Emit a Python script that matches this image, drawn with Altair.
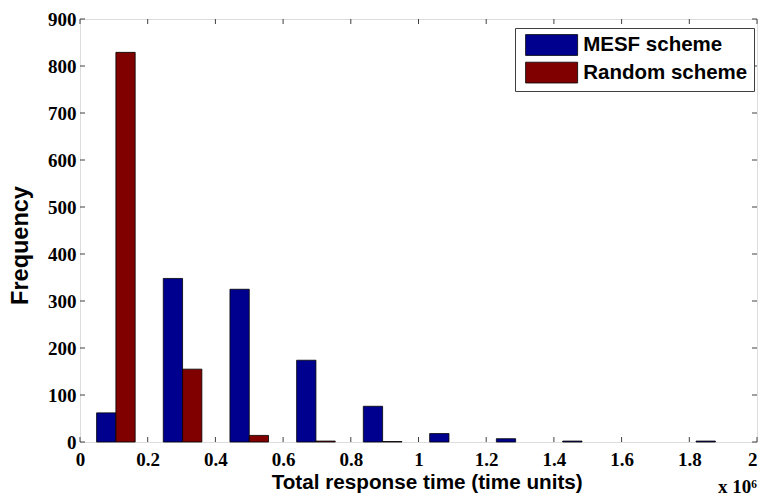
import altair as alt
import pandas as pd

# ---- data ----
centers = [0.106, 0.303, 0.500, 0.697, 0.894, 1.090, 1.287, 1.483, 1.680, 1.877]
mesf = [62, 348, 325, 174, 76, 18, 7, 2, 0, 2]
random_s = [829, 155, 14, 2, 1, 0, 0, 0, 0, 0]
series = ["MESF scheme", "Random scheme"]
colors = ["#00008F", "#800000"]
x_ticks = [0, 0.2, 0.4, 0.6, 0.8, 1.0, 1.2, 1.4, 1.6, 1.8, 2.0]
y_ticks = [0, 100, 200, 300, 400, 500, 600, 700, 800, 900]
exp_label = "x 10\u2076"

W, H = 677, 423
half = 0.057
frame = "#404040"

rows = []
for c, m, r in zip(centers, mesf, random_s):
    rows.append({"series": series[0], "x0": c - half, "x1": c, "count": m})
    rows.append({"series": series[1], "x0": c, "x1": c + half, "count": r})
bars_df = pd.DataFrame(rows)
bars_df = bars_df[bars_df["count"] > 0]

xs = alt.Scale(domain=[0, 2], nice=False, zero=False)
ys = alt.Scale(domain=[0, 900], nice=False)

x_axis = alt.Axis(
    values=x_ticks, format=".1~f", title="Total response time (time units)",
    ticks=False, tickSize=0, domain=False, grid=False,
    labelFont="Liberation Serif", labelFontSize=19, labelFontWeight="bold",
    labelColor="black", labelPadding=8, labelFlush=False, labelOverlap=False,
    labelAlign=alt.ConditionalAxisLabelAlign(
        condition={"test": "datum.value >= 2", "value": "right"}, value="center"),
    titleFont="Liberation Sans", titleFontSize=20.7, titleFontWeight="bold",
    titleColor="black", titleX=346.7, titleY=46, titleBaseline="alphabetic",
    titleAlign="center",
)
y_axis = alt.Axis(
    values=y_ticks, title="Frequency",
    ticks=False, tickSize=0, domain=False, grid=False,
    labelFont="Liberation Serif", labelFontSize=19, labelFontWeight="bold",
    labelColor="black", labelPadding=4, labelOverlap=False,
    titleFont="Liberation Sans", titleFontSize=23.5, titleFontWeight="bold",
    titleColor="black", titleX=-52.6, titleY=226, titleAngle=270,
    titleBaseline="alphabetic", titleAlign="center",
)

tick_x = pd.DataFrame({"x0": x_ticks})
tick_y = pd.DataFrame({"count": y_ticks})

bottom_ticks = alt.Chart(tick_x).mark_rule(color=frame, strokeWidth=1).encode(
    x=alt.X("x0:Q", scale=xs), y=alt.value(H - 5), y2=alt.value(H))
top_ticks = alt.Chart(tick_x).mark_rule(color=frame, strokeWidth=1).encode(
    x=alt.X("x0:Q", scale=xs), y=alt.value(0), y2=alt.value(5))
left_ticks = alt.Chart(tick_y).mark_rule(color=frame, strokeWidth=1).encode(
    y=alt.Y("count:Q", scale=ys), x=alt.value(0), x2=alt.value(5))
right_ticks = alt.Chart(tick_y).mark_rule(color=frame, strokeWidth=1).encode(
    y=alt.Y("count:Q", scale=ys), x=alt.value(W - 5), x2=alt.value(W))

bars = alt.Chart(bars_df).mark_bar(stroke="black", strokeWidth=0.8, opacity=1).encode(
    x=alt.X("x0:Q", scale=xs, axis=x_axis),
    x2="x1:Q",
    y=alt.Y("count:Q", scale=ys, axis=y_axis),
    y2=alt.datum(0),
    color=alt.Color(
        "series:N",
        scale=alt.Scale(domain=series, range=colors),
        legend=alt.Legend(
            orient="none", legendX=435, legendY=9, title=None,
            symbolType="M-0.615,-1H4.385V1H-0.615Z", symbolSize=433,
            symbolStrokeColor="black", symbolStrokeWidth=0.8, symbolOpacity=1,
            labelFont="Liberation Sans", labelFontSize=20.5, labelFontWeight="bold",
            labelColor="black", labelOffset=40.2, labelLimit=400,
            padding=6, rowPadding=1.6,
            strokeColor=frame, fillColor="white",
        ),
    ),
)

exp_text = alt.Chart(pd.DataFrame({"t": [exp_label]})).mark_text(
    align="right", baseline="alphabetic", font="Liberation Serif",
    fontSize=19, fontWeight="bold", color="black",
).encode(x=alt.value(W), y=alt.value(H + 51), text="t:N")

chart = alt.layer(
    bottom_ticks, top_ticks, left_ticks, right_ticks, bars, exp_text
).properties(
    width=W, height=H,
    autosize=alt.AutoSizeParams(type="none"),
    padding={"left": 72, "top": 11, "right": 1, "bottom": 59},
).configure_view(stroke=frame, strokeWidth=1).configure(background="white")

chart.save("out.html", embed_options={"renderer": "svg", "actions": False})
